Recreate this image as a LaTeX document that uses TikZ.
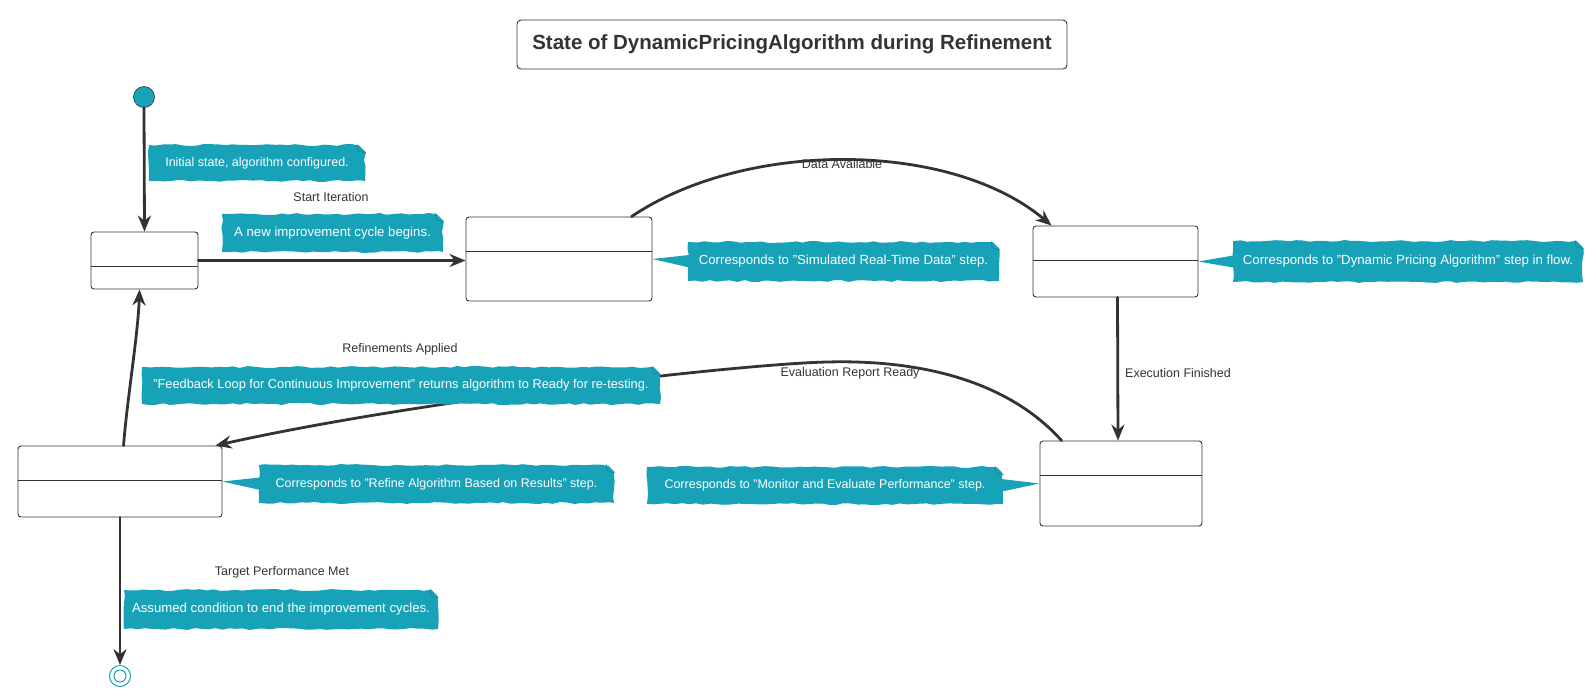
\documentclass[tikz,border=0pt]{standalone}
\usepackage{fontspec}
\setmainfont{Liberation Sans}
\usetikzlibrary{arrows.meta,calc,decorations.pathmorphing}
\definecolor{tealnote}{HTML}{17A2B8}
\definecolor{tealfold}{HTML}{0F8596}
\definecolor{ink}{HTML}{333333}
\begin{document}
\begin{tikzpicture}[x=1pt,y=-1pt,
  statebox/.style={draw=ink, line width=0.9pt, fill=white, rounded corners=3pt, inner sep=0pt},
  notebox/.style={fill=tealnote, text=white, font=\fontsize{13.2}{15}\selectfont, inner sep=0pt,
    decorate, decoration={random steps,segment length=7pt,amplitude=1pt}},
  smallnote/.style={font=\fontsize{12.5}{15}\selectfont},
  elabel/.style={text=ink, font=\fontsize{12.5}{15}\selectfont, inner sep=0pt},
  flow/.style={draw=ink, line width=2.8pt, line cap=round, -{Stealth[length=16pt,width=13pt]}},
  divline/.style={draw=ink, line width=0.9pt},
  foldline/.style={draw=tealfold, line width=0.6pt},
]
\pgfmathsetseed{7}
\useasboundingbox (0,0) rectangle (1591,697);

% title
\node[draw=ink, line width=0.9pt, rounded corners=4pt, minimum width=550pt, minimum height=49pt,
  font=\bfseries\fontsize{20.5}{24}\selectfont, text=ink, inner sep=0pt] (title) at (792,44.5)
  {State of DynamicPricingAlgorithm during Refinement};

% start and end
\node[circle, fill=tealnote, draw=ink, line width=0.6pt, minimum size=21pt, inner sep=0pt] (init) at (144,97) {};
\node[circle, fill=white, draw=tealnote, line width=1pt, minimum size=21pt, inner sep=0pt] (fin) at (120,676) {};
\draw[tealnote, line width=1pt] (fin.center) circle (6pt);

% states
\node[statebox, minimum width=107pt, minimum height=57pt] (ready) at (144.5,260.5) {};
\node[statebox, minimum width=186pt, minimum height=84pt] (sim) at (559,259) {};
\node[statebox, minimum width=165pt, minimum height=71pt] (dyn) at (1115.5,261.5) {};
\node[statebox, minimum width=162pt, minimum height=85pt] (mon) at (1121,483.5) {};
\node[statebox, minimum width=204pt, minimum height=71pt] (ref) at (120,481.5) {};
\foreach \s in {ready,sim,dyn,mon,ref}{
  \draw[divline] ($(\s.north west)+(0,35)$) -- ($(\s.north east)+(0,35)$);
}

% connectors
\draw[flow] (init.south) -- (ready.north);
\draw[flow] (ready.east) -- (ready.east -| sim.west);
\draw[flow] ($(sim.north west)+(166,0)$) .. controls (745,140) and (950,140) .. ($(dyn.north west)+(19,0)$);
\draw[flow] ($(dyn.south)+(2,0)$) -- ($(mon.north)+(-3,0)$);
\draw[flow] ($(mon.north west)+(22,0)$) .. controls (1000,372) and (900,360) .. (827,362)
  .. controls (740,364) and (420,400) .. ($(ref.north east)+(-7,0)$);
\draw[flow] ($(ref.north west)+(106,0)$) .. controls (127,400) and (138,335) .. ($(ready.south west)+(49,0)$);
\draw[flow] (ref.south -| fin.north) -- (fin.north);

% edge labels
\node[elabel] (lstart) at (331,197) {Start Iteration};
\node[elabel] (ldata) at (842,164) {Data Available};
\node[elabel, anchor=west] (lexec) at (1125,373) {Execution Finished};
\node[elabel] (leval) at (850,373) {Evaluation Report Ready};
\node[elabel] (lrefine) at (400,349) {Refinements Applied};
\node[elabel] (ltarget) at (282,572) {Target Performance Met};

% notes
\node[notebox, smallnote, minimum width=216pt, minimum height=36pt] (ninit) at (257,163) {Initial state, algorithm configured.};
\node[notebox, minimum width=221pt, minimum height=38pt] (nstart) at (332.5,233) {A new improvement cycle begins.};
\node[notebox, minimum width=311pt, minimum height=39pt] (nsim) at (843.5,261.5) {Corresponds to "Simulated Real-Time Data" step.};
\node[notebox, minimum width=350pt, minimum height=41pt] (ndyn) at (1408,261.5) {Corresponds to "Dynamic Pricing Algorithm" step in flow.};
\node[notebox, font=\fontsize{12.8}{15}\selectfont, minimum width=518pt, minimum height=37pt] (nfb) at (401,385.5) {"Feedback Loop for Continuous Improvement" returns algorithm to Ready for re-testing.};
\node[notebox, smallnote, minimum width=355pt, minimum height=38pt] (nref) at (436.5,484) {Corresponds to "Refine Algorithm Based on Results" step.};
\node[notebox, smallnote, minimum width=356pt, minimum height=37pt] (nmon) at (825,485.5) {Corresponds to "Monitor and Evaluate Performance" step.};
\node[notebox, minimum width=314pt, minimum height=39pt] (nend) at (281,609.5) {Assumed condition to end the improvement cycles.};

% note pointers
\fill[tealnote] (sim.east) -- ($(nsim.west)+(6,-7)$) -- ($(nsim.west)+(6,7)$) -- cycle;
\fill[tealnote] (dyn.east) -- ($(ndyn.west)+(6,-7)$) -- ($(ndyn.west)+(6,7)$) -- cycle;
\fill[tealnote] (ref.east) -- ($(nref.west)+(6,-7)$) -- ($(nref.west)+(6,7)$) -- cycle;
\fill[tealnote] (mon.west) -- ($(nmon.east)+(-6,-7)$) -- ($(nmon.east)+(-6,7)$) -- cycle;

% folded corners
\foreach \n in {ninit,nstart,nsim,ndyn,nfb,nref,nmon,nend}{
  \fill[white] ($(\n.north east)+(-8,-1.5)$) -- ($(\n.north east)+(1.5,-1.5)$) -- ($(\n.north east)+(1.5,8)$) -- cycle;
  \draw[foldline] ($(\n.north east)+(-8,-0.5)$) -- ($(\n.north east)+(-7,6)$) -- ($(\n.north east)+(0.5,8)$);
}
\end{tikzpicture}
\end{document}
